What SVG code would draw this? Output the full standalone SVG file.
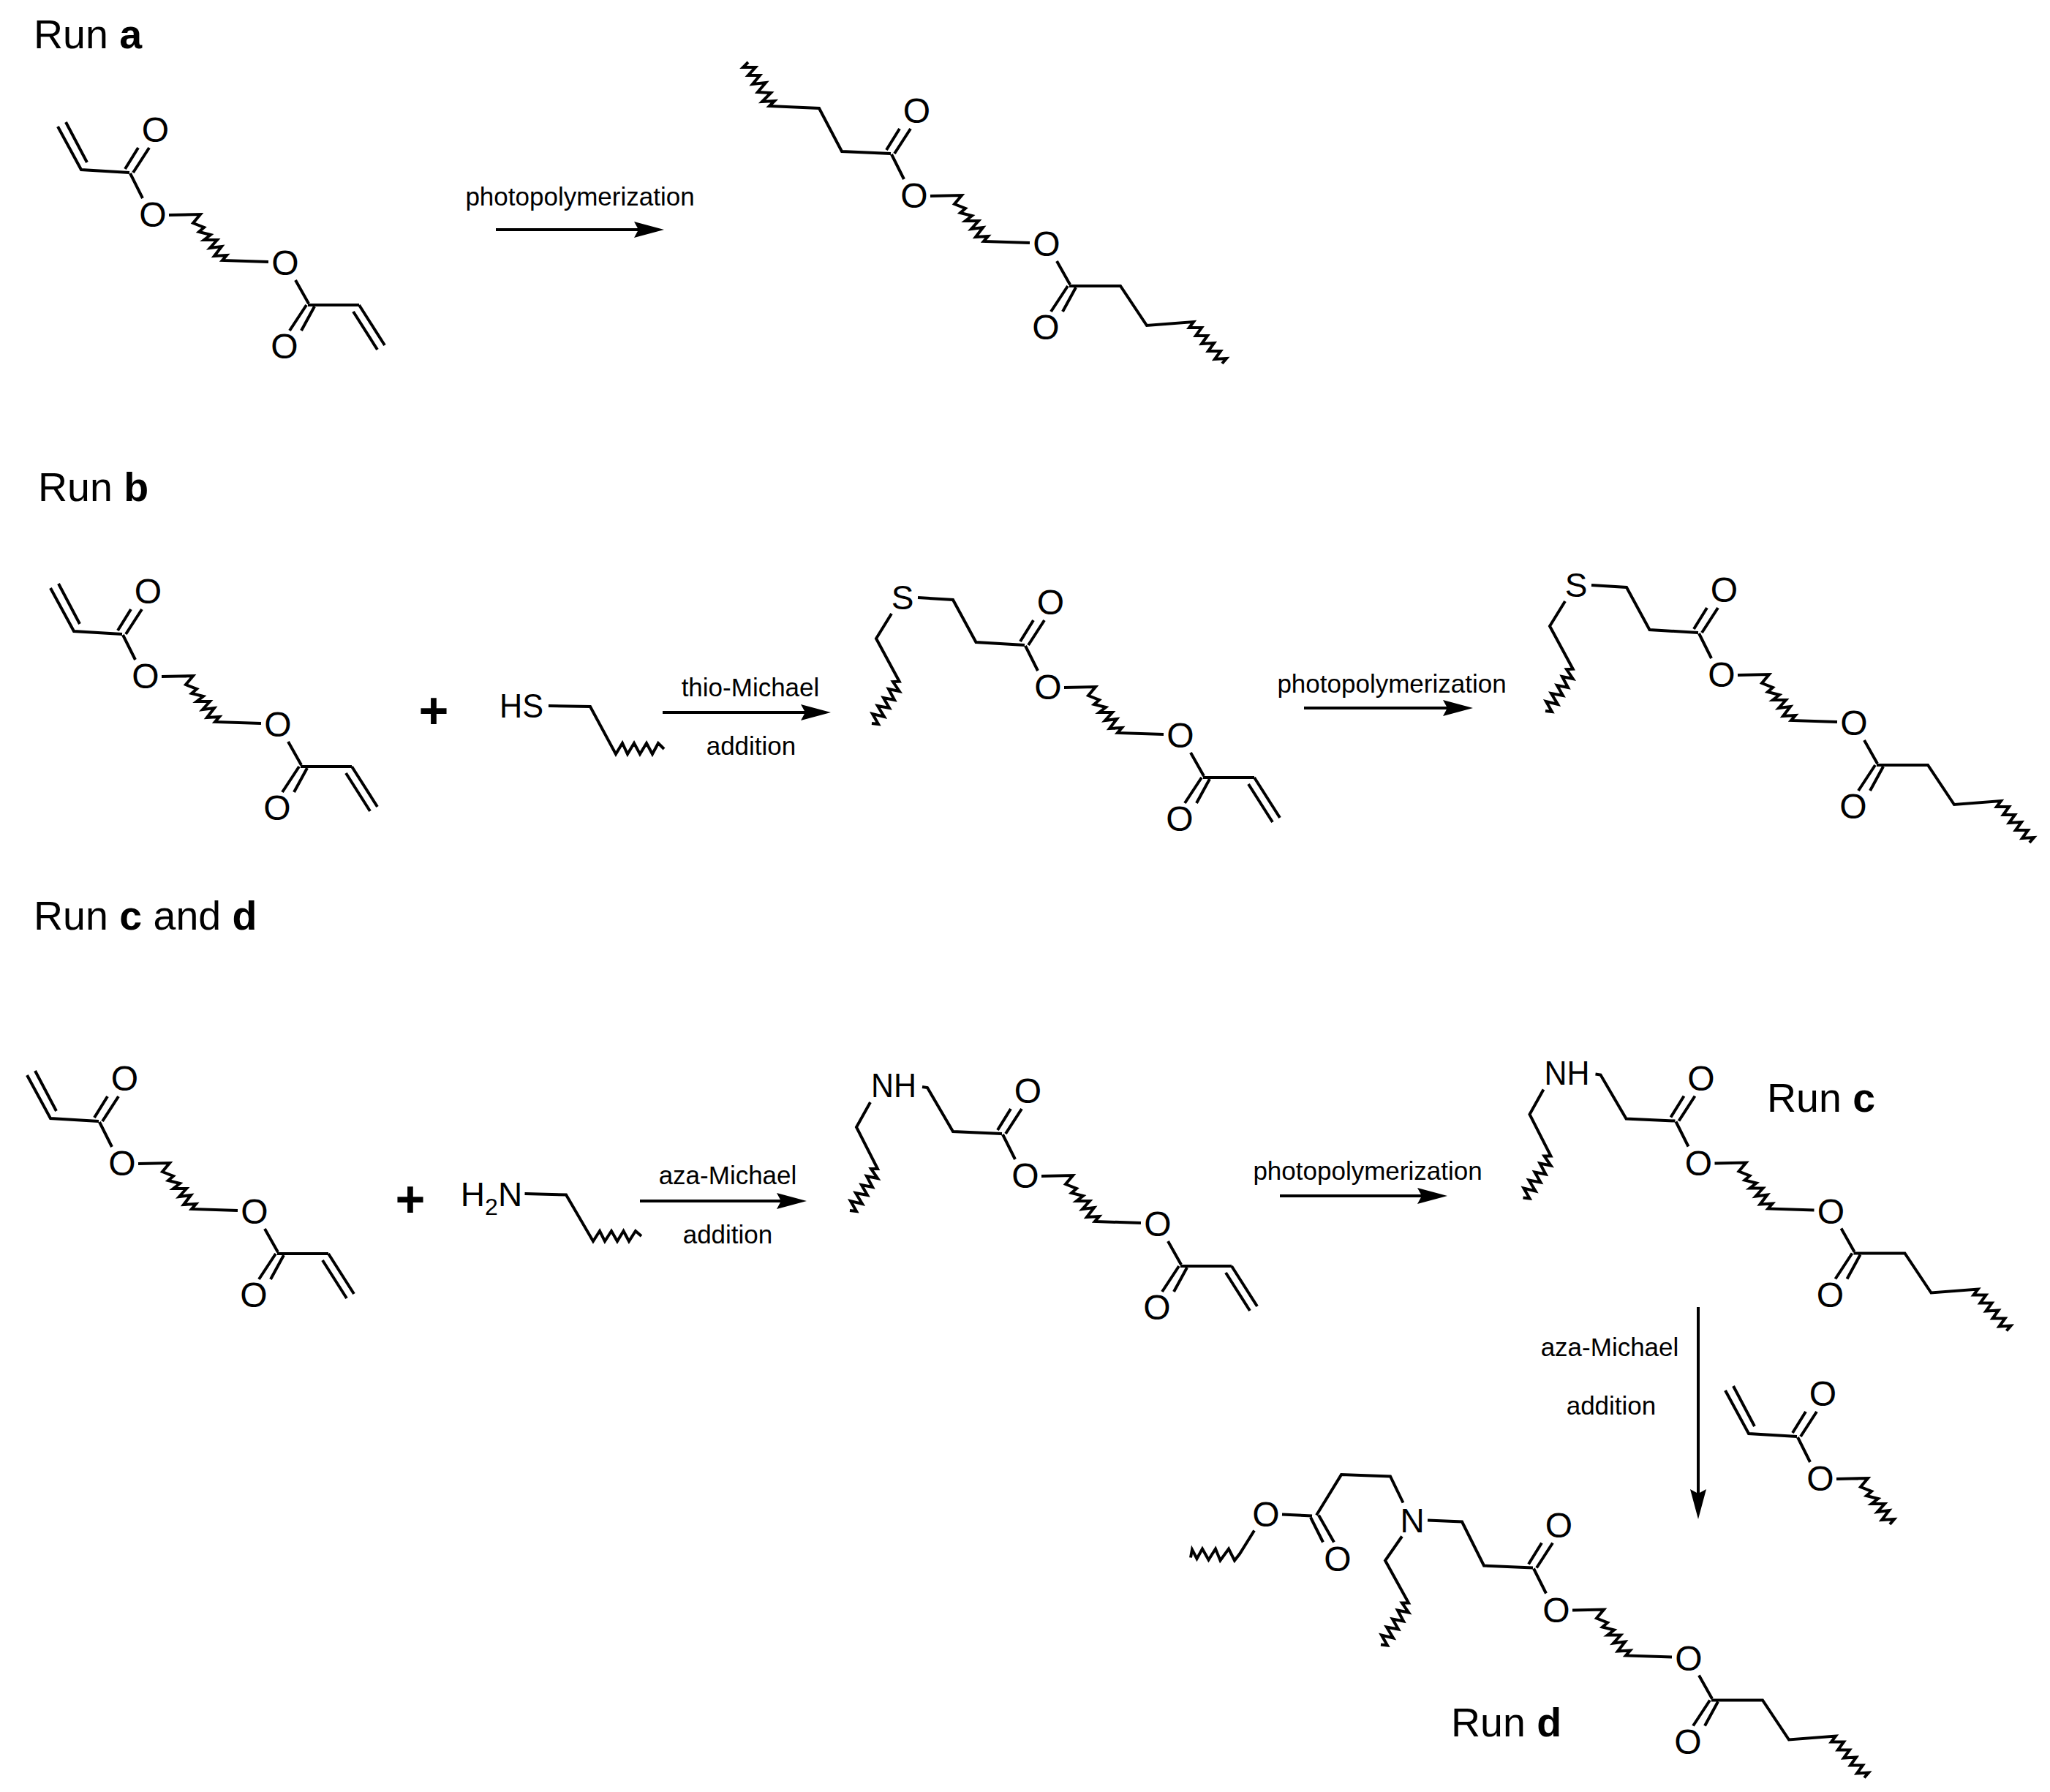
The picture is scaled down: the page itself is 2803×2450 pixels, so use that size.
<svg xmlns="http://www.w3.org/2000/svg" width="2803" height="2450" viewBox="0 0 2803 2450">
<defs>
<style>
text{font-family:"Liberation Sans",Arial,sans-serif;fill:#000}
.b{fill:none;stroke:#000;stroke-width:4;stroke-linejoin:miter;stroke-linecap:butt}
.at{font-size:46px;text-anchor:middle}
.o{font-size:48px;text-anchor:middle}
.lb{font-size:35px;text-anchor:middle}
.ti{font-size:55.500px}
.ti tspan{font-weight:bold}
.pl{font-size:70px;font-weight:bold;text-anchor:middle}
.ar{fill:none;stroke:#000;stroke-width:4;marker-end:url(#head)}
</style>
<marker id="head" markerUnits="userSpaceOnUse" markerWidth="44" markerHeight="26" refX="6" refY="12" orient="auto">
<path d="M0 1L41 12L0 23L6 12Z" fill="#000"/>
</marker>
</defs>
<rect width="2803" height="2450" fill="#fff"/>

<g id="titles">
<text class="ti" x="46" y="66">Run <tspan>a</tspan></text>
<text class="ti" x="52" y="685">Run <tspan>b</tspan></text>
<text class="ti" x="46" y="1271">Run <tspan>c</tspan> and <tspan>d</tspan></text>
<text class="ti" x="2416" y="1520">Run <tspan>c</tspan></text>
<text class="ti" x="1984" y="2374">Run <tspan>d</tspan></text>
</g>

<g id="connectors">
<path class="ar" d="M678 314H873"/>
<path class="ar" d="M906 974H1101"/>
<path class="ar" d="M1783 968H1979"/>
<path class="ar" d="M875 1642H1068"/>
<path class="ar" d="M1750 1635H1944"/>
<path class="ar" d="M2322 1787V2042"/>
<text class="lb" x="793" y="281">photopolymerization</text>
<text class="lb" x="1026" y="952">thio-Michael</text>
<text class="lb" x="1027" y="1032">addition</text>
<text class="lb" x="1903" y="947">photopolymerization</text>
<text class="lb" x="995" y="1619">aza-Michael</text>
<text class="lb" x="995" y="1700">addition</text>
<text class="lb" x="1870" y="1613">photopolymerization</text>
<text class="lb" x="2201" y="1854">aza-Michael</text>
<text class="lb" x="2203" y="1934">addition</text>
</g>

<g id="diacrylate-a">
<path class="b" d="M79 173L111 232L177 236M90 167L119 222M171 231L189 202M182 236L204 202M178 237L195 271M231 294L274 293L264 305L279 311L272 317L288 321L279 328L297 328L287 339L303 337L293 350L310 349L304 356L367 358M404 383L422 415M421 417H491M419 417L396 452M430 419L412 452M491 417L526 472M483 426L516 478"/>
<text class="o" x="212.5" y="194">O</text><text class="o" x="209" y="310">O</text><text class="o" x="390" y="376">O</text><text class="o" x="389" y="490">O</text>
</g>

<g id="polymer-a" transform="translate(1041 -26)">
<path class="b" d="M-18 111L-25 118L-8 118L-18 129L-2 129L-12 141L6 139L-5 152L13 153L1 165L18 164L11 171L79 174L110 233L177 236M171 231L189 202M182 236L204 202M178 237L195 271M231 294L274 293L264 305L279 311L272 317L288 321L279 328L297 328L287 339L303 337L293 350L310 349L304 356L367 358M404 383L422 415M421 417H491L527 471L591 466L585 474L602 474L594 485L610 485L602 496L619 495L611 506L628 506L620 517L636 516L630 523M419 417L396 452M430 419L412 452"/>
<text class="o" x="212.5" y="194">O</text><text class="o" x="209" y="310">O</text><text class="o" x="390" y="376">O</text><text class="o" x="389" y="490">O</text>
</g>

<g id="diacrylate-b" transform="translate(-10 631)">
<path class="b" d="M79 173L111 232L177 236M90 167L119 222M171 231L189 202M182 236L204 202M178 237L195 271M231 294L274 293L264 305L279 311L272 317L288 321L279 328L297 328L287 339L303 337L293 350L310 349L304 356L367 358M404 383L422 415M421 417H491M419 417L396 452M430 419L412 452M491 417L526 472M483 426L516 478"/>
<text class="o" x="212.5" y="194">O</text><text class="o" x="209" y="310">O</text><text class="o" x="390" y="376">O</text><text class="o" x="389" y="490">O</text>
</g>

<g id="plus-b"><text class="pl" x="593" y="996">+</text></g>

<g id="thiol">
<text class="at" x="713" y="981" textLength="60" lengthAdjust="spacingAndGlyphs">HS</text>
<path class="b" d="M750 965L807 966L842 1031L851 1016L858 1031L867 1016L875 1031L884 1016L892 1031L900 1016L908 1024"/>
</g>

<g id="intermediate-b" transform="translate(1224 646)">
<path class="b" d="M31 171L79 174L110.500 232L177 236M-5 193L-26 227L5.700 285.700L-3 286L5.700 299L-9 296L-1 311L-16 308L-8 322L-24 319L-15 334L-31 330L-23 344L-32 343M171 231L189 202M182 236L204 202M178 237L195 271M231 294L274 293L264 305L279 311L272 317L288 321L279 328L297 328L287 339L303 337L293 350L310 349L304 356L367 358M404 383L422 415M421 417H491M419 417L396 452M430 419L412 452M491 417L526 472M483 426L516 478"/>
<text class="at" x="10" y="187">S</text>
<text class="o" x="212.5" y="194">O</text><text class="o" x="209" y="310">O</text><text class="o" x="390" y="376">O</text><text class="o" x="389" y="490">O</text>
</g>

<g id="polymer-b" transform="translate(2145 629)">
<path class="b" d="M31 171L79 174L110.500 232L177 236M-5 193L-26 227L5.700 285.700L-3 286L5.700 299L-9 296L-1 311L-16 308L-8 322L-24 319L-15 334L-31 330L-23 344L-32 343M171 231L189 202M182 236L204 202M178 237L195 271M231 294L274 293L264 305L279 311L272 317L288 321L279 328L297 328L287 339L303 337L293 350L310 349L304 356L367 358M404 383L422 415M421 417H491L527 471L591 466L585 474L602 474L594 485L610 485L602 496L619 495L611 506L628 506L620 517L636 516L630 523M419 417L396 452M430 419L412 452"/>
<text class="at" x="10" y="187">S</text>
<text class="o" x="212.5" y="194">O</text><text class="o" x="209" y="310">O</text><text class="o" x="390" y="376">O</text><text class="o" x="389" y="490">O</text>
</g>

<g id="diacrylate-c" transform="translate(-42 1297)">
<path class="b" d="M79 173L111 232L177 236M90 167L119 222M171 231L189 202M182 236L204 202M178 237L195 271M231 294L274 293L264 305L279 311L272 317L288 321L279 328L297 328L287 339L303 337L293 350L310 349L304 356L367 358M404 383L422 415M421 417H491M419 417L396 452M430 419L412 452M491 417L526 472M483 426L516 478"/>
<text class="o" x="212.5" y="194">O</text><text class="o" x="209" y="310">O</text><text class="o" x="390" y="376">O</text><text class="o" x="389" y="490">O</text>
</g>

<g id="plus-c"><text class="pl" x="561" y="1664">+</text></g>

<g id="amine">
<text class="at" x="672" y="1649">H<tspan font-size="32" dy="12">2</tspan><tspan dy="-12">N</tspan></text>
<path class="b" d="M717.500 1632L774 1633.500L811 1697L820 1683L827 1697L836 1683L844 1697L852.500 1683L860 1697L869 1683L877 1690"/>
</g>

<g id="intermediate-c" transform="translate(1193 1314)">
<path class="b" d="M68 172L75 173L110 233L177 236M-3 193L-22 227L7 284L-2 284L7 297L-8 294L0 309L-15 306L-7 320L-23 317L-14 332L-30 328L-22 342L-31 341M171 231L189 202M182 236L204 202M178 237L195 271M231 294L274 293L264 305L279 311L272 317L288 321L279 328L297 328L287 339L303 337L293 350L310 349L304 356L367 358M404 383L422 415M421 417H491M419 417L396 452M430 419L412 452M491 417L526 472M483 426L516 478"/>
<text class="at" x="29" y="186" textLength="62" lengthAdjust="spacingAndGlyphs">NH</text>
<text class="o" x="212.5" y="194">O</text><text class="o" x="209" y="310">O</text><text class="o" x="390" y="376">O</text><text class="o" x="389" y="490">O</text>
</g>

<g id="polymer-c" transform="translate(2113.500 1296.500)">
<path class="b" d="M68 172L75 173L110 233L177 236M-3 193L-22 227L7 284L-2 284L7 297L-8 294L0 309L-15 306L-7 320L-23 317L-14 332L-30 328L-22 342L-31 341M171 231L189 202M182 236L204 202M178 237L195 271M231 294L274 293L264 305L279 311L272 317L288 321L279 328L297 328L287 339L303 337L293 350L310 349L304 356L367 358M404 383L422 415M421 417H491L527 471L591 466L585 474L602 474L594 485L610 485L602 496L619 495L611 506L628 506L620 517L636 516L630 523M419 417L396 452M430 419L412 452"/>
<text class="at" x="29" y="186" textLength="62" lengthAdjust="spacingAndGlyphs">NH</text>
<text class="o" x="212.5" y="194">O</text><text class="o" x="209" y="310">O</text><text class="o" x="390" y="376">O</text><text class="o" x="389" y="490">O</text>
</g>

<g id="monoacrylate" transform="translate(2280 1728)">
<path class="b" d="M79 173L111 232L177 236M90 167L119 222M171 231L189 202M182 236L204 202M178 237L195 271M231 294L274 293L264 305L279 311L272 317L288 321L279 328L297 328L287 339L303 337L293 350L310 349L304 356"/>
<text class="o" x="212.5" y="194">O</text><text class="o" x="209" y="310">O</text>
</g>

<g id="polymer-d" transform="translate(-2 -1.500)">
<path class="b" d="M1954 2080L2001 2082L2031 2142L2098 2145M1920.500 2056L1903 2020L1836 2017.600L1802 2073M1805 2073L1826 2110M1794 2076L1811 2110M1755 2072L1796 2074M1717 2094L1697 2126L1690 2135L1682 2119L1670.500 2135L1664 2119L1654.500 2134L1646 2119L1638.500 2132.500L1632 2120L1630 2131M1919 2102L1896 2135L1928 2193L1919 2193L1928 2206L1913 2203L1921 2218L1906 2215L1914 2229L1898 2226L1907 2241L1891 2237L1899 2251L1890 2250"/>
<text class="at" x="1933" y="2096">N</text><text class="o" x="1733" y="2088">O</text><text class="o" x="1831" y="2149.500">O</text>
<g transform="translate(1921 1909)">
<path class="b" d="M171 231L189 202M182 236L204 202M178 237L195 271M231 294L274 293L264 305L279 311L272 317L288 321L279 328L297 328L287 339L303 337L293 350L310 349L304 356L367 358M404 383L422 415M421 417H491L527 471L591 466L585 474L602 474L594 485L610 485L602 496L619 495L611 506L628 506L620 517L636 516L630 523M419 417L396 452M430 419L412 452"/>
<text class="o" x="212.5" y="194">O</text><text class="o" x="209" y="310">O</text><text class="o" x="390" y="376">O</text><text class="o" x="389" y="490">O</text>
</g>
</g>
</svg>
